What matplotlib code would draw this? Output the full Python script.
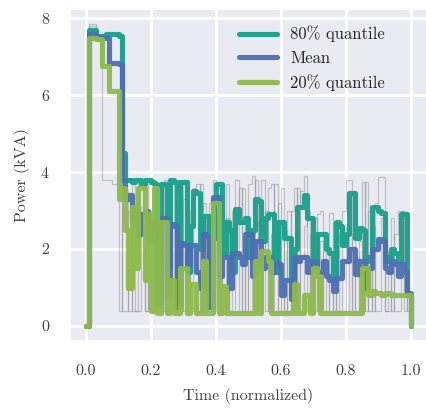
"""Aggregated load profile: quantiles and mean of apparent power over normalized time."""

import matplotlib

matplotlib.use("Agg")
import matplotlib.pyplot as plt
import numpy as np
import seaborn as sns

sns.set_theme(style="darkgrid")
plt.rcParams["font.family"] = ["cmr10", "DejaVu Serif"]
plt.rcParams["mathtext.fontset"] = "cm"
plt.rcParams["axes.formatter.use_mathtext"] = True

# ---------------------------------------------------------------------------
# Data (one value per 0.01 of normalized time, drawn as steps)

time = np.linspace(0.0, 1.0, 101)

q80 = [
    0, 7.7, 7.7, 7.55, 7.55, 7.55, 7.6, 7.6, 7.6, 7.6,
    7.55, 4.5, 3.8, 3.8, 3.75, 3.8, 3.8, 3.7, 3.8, 3.8,
    3.75, 3.7, 1.3, 3.7, 3.7, 1.5, 3.8, 3.75, 0.6, 3.75,
    3.75, 1.4, 2.6, 3.5, 3.45, 2.0, 2.85, 2.85, 1.0, 2.3,
    3.7, 3.7, 1.9, 2.7, 2.5, 1.4, 3.05, 2.7, 2.7, 2.8,
    1.8, 2.5, 3.3, 3.25, 2.2, 2.8, 2.9, 2.9, 1.4, 2.7,
    2.7, 2.3, 2.3, 1.2, 2.0, 3.1, 3.1, 3.4, 2.8, 2.8,
    1.6, 2.4, 2.4, 2.4, 2.0, 1.9, 1.2, 2.7, 2.6, 2.1,
    2.4, 3.45, 3.45, 2.3, 2.55, 2.5, 1.7, 1.8, 3.1, 3.1,
    3.0, 2.95, 1.7, 1.8, 2.0, 1.9, 1.7, 2.9, 2.9, 0.85,
    0,
]

mean = [
    0, 7.6, 7.6, 7.5, 7.5, 7.5, 7.5, 6.85, 6.85, 6.85,
    6.8, 3.8, 3.3, 3.4, 2.7, 3.0, 2.4, 2.9, 3.0, 2.2,
    2.65, 2.7, 0.6, 2.8, 2.8, 0.8, 2.65, 2.6, 0.5, 2.15,
    2.1, 1.6, 2.1, 2.1, 1.4, 1.0, 2.4, 2.35, 0.5, 3.35,
    3.35, 1.3, 1.8, 1.8, 1.0, 1.9, 1.9, 1.8, 1.6, 2.4,
    2.4, 1.3, 2.2, 2.2, 1.5, 1.8, 1.8, 1.4, 1.6, 1.6,
    0.8, 1.2, 1.2, 0.7, 1.8, 1.7, 1.8, 1.8, 1.4, 1.7,
    1.7, 1.4, 1.4, 1.7, 1.3, 1.2, 0.9, 1.25, 1.25, 1.7,
    1.7, 2.0, 2.0, 1.35, 1.7, 1.7, 1.0, 1.5, 2.0, 2.0,
    2.25, 2.2, 1.5, 1.4, 1.7, 1.6, 1.3, 1.6, 1.4, 0.8,
    0,
]

q20 = [
    0, 7.5, 7.5, 7.45, 7.45, 6.75, 6.75, 6.1, 6.1, 6.1,
    3.3, 3.6, 2.5, 1.0, 3.1, 1.5, 3.6, 3.6, 1.2, 2.9,
    0.4, 3.6, 0.35, 2.7, 2.7, 0.35, 1.2, 0.35, 0.35, 1.5,
    1.5, 0.35, 1.1, 1.1, 0.35, 0.35, 1.7, 0.35, 0.35, 3.2,
    3.2, 0.35, 1.05, 0.35, 0.35, 0.35, 0.35, 0.35, 0.35, 0.35,
    0.35, 0.35, 1.7, 0.35, 1.95, 1.95, 1.7, 0.35, 0.35, 0.35,
    0.35, 0.35, 0.35, 0.35, 1.1, 0.35, 0.35, 0.8, 0.8, 0.35,
    1.5, 1.3, 0.35, 0.35, 0.35, 0.35, 0.35, 0.35, 0.35, 0.35,
    0.35, 0.35, 0.35, 0.35, 0.35, 1.5, 1.5, 0.8, 0.9, 0.85,
    0.85, 0.8, 0.85, 0.85, 0.8, 0.8, 0.8, 0.8, 0.8, 0.8,
    0,
]

profile_a = [
    0, 7.85, 7.85, 7.6, 7.55, 7.55, 7.55, 7.55, 7.55, 7.55,
    7.55, 0.4, 0.4, 3.0, 0.4, 0.4, 3.8, 3.8, 0.4, 3.0,
    0.4, 0.4, 2.5, 0.4, 3.8, 3.7, 0.4, 0.4, 3.0, 3.7,
    0.4, 0.4, 2.0, 3.6, 3.7, 0.4, 3.2, 0.4, 2.2, 3.8,
    3.6, 3.6, 0.4, 2.8, 0.4, 3.0, 3.8, 0.4, 3.6, 0.4,
    3.7, 3.9, 0.4, 2.7, 3.8, 0.4, 3.6, 3.7, 0.4, 3.2,
    0.4, 2.5, 0.4, 3.0, 3.6, 0.4, 3.5, 3.9, 0.4, 2.4,
    0.4, 2.9, 3.0, 0.4, 2.0, 0.4, 2.7, 0.4, 2.4, 3.0,
    3.8, 3.8, 0.4, 1.8, 0.4, 3.75, 0.4, 3.0, 0.4, 3.2,
    3.87, 3.87, 0.4, 1.95, 0.4, 2.4, 3.0, 3.0, 0.4, 0.9,
    0,
]

profile_b = [
    0, 7.8, 7.8, 7.5, 7.5, 3.8, 3.8, 3.8, 3.7, 3.7,
    0.4, 3.8, 3.5, 0.4, 3.7, 0.4, 0.4, 3.1, 0.4, 3.7,
    3.7, 0.4, 3.0, 0.4, 0.4, 2.5, 3.7, 0.4, 2.0, 0.4,
    3.3, 0.4, 3.0, 0.4, 0.4, 3.7, 0.4, 2.8, 3.2, 0.4,
    3.0, 0.4, 2.5, 3.7, 0.4, 0.4, 2.8, 3.6, 0.4, 2.6,
    0.4, 2.4, 3.8, 0.4, 2.0, 3.0, 0.4, 2.4, 3.7, 0.4,
    3.6, 0.4, 3.0, 0.4, 0.4, 3.6, 0.4, 2.6, 3.0, 0.4,
    2.8, 0.4, 2.2, 0.4, 0.4, 2.95, 0.4, 1.8, 2.7, 0.4,
    2.6, 0.4, 2.4, 0.4, 2.2, 0.4, 3.75, 0.4, 2.6, 0.4,
    0.4, 2.8, 0.4, 0.4, 2.8, 0.4, 0.4, 3.0, 0.9, 0.4,
    0,
]

series_labels = ["80% quantile", "Mean", "20% quantile"]
series_colors = ["#16a08a", "#4c6fb5", "#8cbb4a"]

# ---------------------------------------------------------------------------
# Figure

fig = plt.figure(figsize=(4.26, 4.09), dpi=100)
ax = fig.add_axes([0.164, 0.166, 0.838, 0.812])
ax.grid(True, color="white", lw=2.0)

for profile in (profile_a, profile_b):
    ax.plot(time, profile, drawstyle="steps-post", color="0.5",
            alpha=0.4, lw=0.9)

for values, label, color in zip((q80, mean, q20), series_labels, series_colors):
    ax.plot(time, values, drawstyle="steps-post", color=color, lw=3.7,
            alpha=0.95, label=label, solid_joinstyle="round",
            solid_capstyle="round")

ax.set_xticks([0.0, 0.2, 0.4, 0.6, 0.8, 1.0])
ax.set_xticklabels(["0.0", "0.2", "0.4", "0.6", "0.8", "1.0"])
ax.set_yticks([0, 2, 4, 6, 8])
ax.set_yticklabels(["0", "2", "4", "6", "8"])
ax.tick_params(axis="x", labelsize=11.5, pad=11, colors="0.25")
ax.tick_params(axis="y", labelsize=11.5, pad=9, colors="0.25")
ax.set_xlabel("Time (normalized)", fontsize=11.5, color="0.25", labelpad=7)
ax.set_ylabel("Power (kVA)", fontsize=11.5, color="0.25", labelpad=8)

ax.legend(loc="upper right", bbox_to_anchor=(0.925, 0.995), frameon=False,
          fontsize=12, handlelength=2.3, labelspacing=0.5)

fig.savefig("out.png", dpi=100)
